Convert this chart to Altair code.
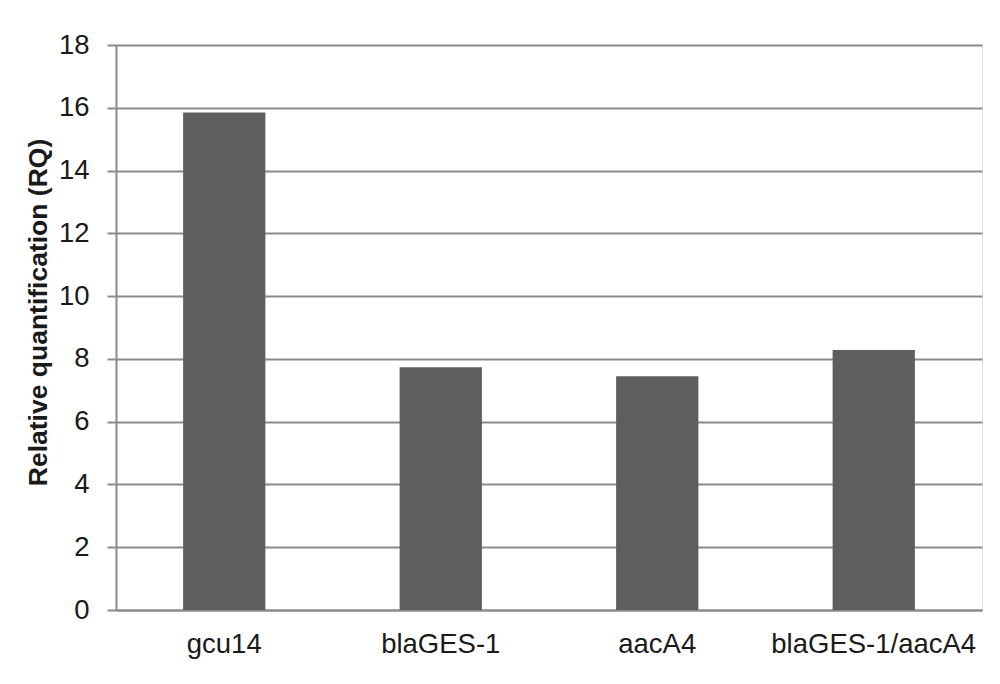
import altair as alt
import pandas as pd

genes = ["gcu14", "blaGES-1", "aacA4", "blaGES-1/aacA4"]
rq = [15.85, 7.73, 7.45, 8.28]

df = pd.DataFrame({"gene": genes, "rq": rq})

FONT = "Liberation Sans"

chart = alt.Chart(df).mark_bar(color="#5e5e5e").encode(
    x=alt.X("gene:N", sort=genes, title=None,
            scale=alt.Scale(paddingInner=0.62, paddingOuter=0.31),
            axis=alt.Axis(labelAngle=0, labelFontSize=27.5, labelFont=FONT,
                          labelColor="#1a1a1a", ticks=False, labelPadding=20,
                          labelLimit=0,
                          domainColor="#8a8a8a", domainWidth=2, grid=False)),
    y=alt.Y("rq:Q", title="Relative quantification (RQ)",
            scale=alt.Scale(domain=[0, 18], nice=False),
            axis=alt.Axis(values=list(range(0, 19, 2)), labelFontSize=27.5,
                          labelFont=FONT, labelColor="#1a1a1a", labelPadding=18,
                          tickSize=9, tickColor="#8a8a8a", tickWidth=2,
                          domainColor="#8a8a8a", domainWidth=2,
                          gridColor="#8a8a8a", gridWidth=2, gridOpacity=1,
                          titleFont=FONT, titleFontSize=26.5, titleFontWeight="bold",
                          titleColor="#1a1a1a", titleAngle=270, titleAlign="center",
                          titleBaseline="alphabetic", titleX=-70, titleY=267)),
).properties(
    width=866, height=565, autosize="none",
    padding={"left": 108, "top": 37, "right": 10, "bottom": 60},
).configure_view(stroke=None).configure(background="white")

chart.save("out.html", embed_options={"renderer": "svg", "actions": False})
